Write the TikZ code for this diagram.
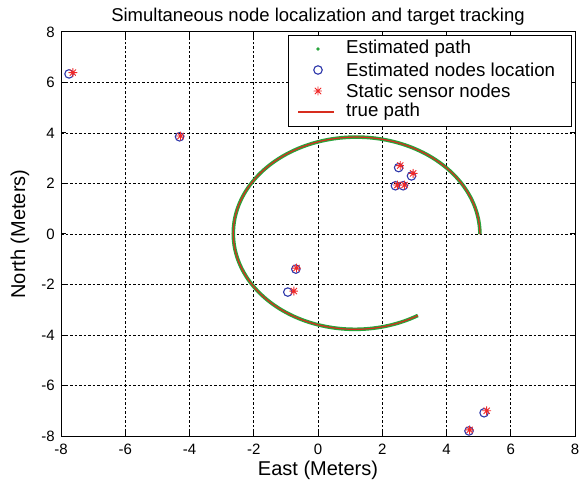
\documentclass[tikz,border=0pt]{standalone}
\usepackage{fontspec}
\setmainfont{Liberation Sans}
\definecolor{pathgreen}{RGB}{40,165,60}
\definecolor{pathred}{RGB}{215,45,30}
\definecolor{nodeblue}{RGB}{45,55,170}
\definecolor{starred}{RGB}{240,40,40}
\tikzset{
  gridline/.style={black, line width=0.9pt, dash pattern=on 2.5pt off 2pt},
  axisbox/.style={black, line width=1pt},
  circmark/.style={circle, draw=nodeblue, line width=1.1pt, minimum size=8.5pt, inner sep=0pt},
  starmark/.style={circle, minimum size=9pt, inner sep=0pt,
    path picture={\draw[starred, line width=0.9pt]
      (path picture bounding box.north) -- (path picture bounding box.south)
      (path picture bounding box.east) -- (path picture bounding box.west)
      (path picture bounding box.north east) -- (path picture bounding box.south west)
      (path picture bounding box.north west) -- (path picture bounding box.south east);}},
  ticklabel/.style={font=\fontsize{15}{15}\selectfont, inner sep=0pt},
  legendtext/.style={font=\fontsize{18.7}{18.7}\selectfont, anchor=west, inner sep=0pt},
  greenpath/.style={pathgreen, line width=3.6pt},
  redpath/.style={pathred, line width=1.2pt},
}
\begin{document}
\begin{tikzpicture}[x=1pt,y=1pt]
\useasboundingbox (0,0) rectangle (585,490);
% title and axis labels
\node[font=\fontsize{18.5}{18.5}\selectfont] (title) at (318,473) {Simultaneous node localization and target tracking};
\node[font=\fontsize{20}{20}\selectfont] (xlab) at (318,20) {East (Meters)};
\node[font=\fontsize{20}{20}\selectfont, rotate=90] (ylab) at (20,256) {North (Meters)};
\begin{scope}[shift={(318pt,256pt)}, x=32.125pt, y=25.25pt]
  % grid
  \foreach \v in {-6,-4,-2,0,2,4,6} {
    \draw[gridline] (\v,-8) -- (\v,8);
    \draw[gridline] (-8,\v) -- (8,\v);
  }
  % ticks
  \foreach \v in {-6,-4,-2,0,2,4,6} {
    \draw[axisbox] (\v,-8) -- ++(0,5pt);
    \draw[axisbox] (\v,8) -- ++(0,-5pt);
    \draw[axisbox] (-8,\v) -- ++(5pt,0);
    \draw[axisbox] (8,\v) -- ++(-5pt,0);
  }
  % tick labels
  \foreach \v [count=\k] in {-8,-6,-4,-2,0,2,4,6,8} {
    \node[ticklabel] (xt\k) at ([yshift=-13pt]\v,-8) {\v};
    \node[ticklabel, anchor=east] (yt\k) at ([xshift=-6pt]-8,\v) {\v};
  }
  % path
  \draw[greenpath] plot[domain=0:301, samples=160, smooth]
    ({1.17+(3.87-0.00035*\x)*cos(\x)}, {(3.87-0.00035*\x)*sin(\x)});
  \draw[redpath] plot[domain=0:301, samples=160, smooth]
    ({1.17+(3.87-0.00035*\x)*cos(\x)}, {(3.87-0.00035*\x)*sin(\x)});
  % estimated node locations
  \node[circmark] (c1) at (-7.75,6.34) {};
  \node[circmark] (c2) at (-4.31,3.85) {};
  \node[circmark] (c3) at (2.51,2.63) {};
  \node[circmark] (c4) at (2.91,2.30) {};
  \node[circmark] (c5) at (2.41,1.91) {};
  \node[circmark] (c6) at (2.65,1.91) {};
  \node[circmark] (c7) at (-0.69,-1.39) {};
  \node[circmark] (c8) at (-0.94,-2.30) {};
  \node[circmark] (c9) at (5.17,-7.08) {};
  \node[circmark] (c10) at (4.70,-7.80) {};
  % static sensor nodes
  \node[starmark] (s1) at (-7.63,6.39) {};
  \node[starmark] (s2) at (-4.28,3.88) {};
  \node[starmark] (s3) at (2.56,2.71) {};
  \node[starmark] (s4) at (2.96,2.40) {};
  \node[starmark] (s5) at (2.47,1.94) {};
  \node[starmark] (s6) at (2.69,1.94) {};
  \node[starmark] (s7) at (-0.67,-1.35) {};
  \node[starmark] (s8) at (-0.75,-2.26) {};
  \node[starmark] (s9) at (5.25,-7.00) {};
  \node[starmark] (s10) at (4.72,-7.76) {};
  % axis box
  \draw[axisbox] (-8,-8) rectangle (8,8);
\end{scope}
% legend
\draw[black, line width=1pt, fill=white] (288,363) rectangle (571,454);
\fill[pathgreen] (318,441) circle (1.8pt);
\node[legendtext] (l1) at (346,441) {Estimated path};
\node[circmark] (lc) at (318,420) {};
\node[legendtext] (l2) at (346,420) {Estimated nodes location};
\node[starmark] (ls) at (318,399) {};
\node[legendtext] (l3) at (346,399) {Static sensor nodes};
\coordinate (la) at (298,378);
\coordinate (lb) at (334,378);
\draw[pathred, line width=1.2pt] (la) -- (lb);
\node[legendtext] (l4) at (346,378) {true path};
\end{tikzpicture}
\end{document}
